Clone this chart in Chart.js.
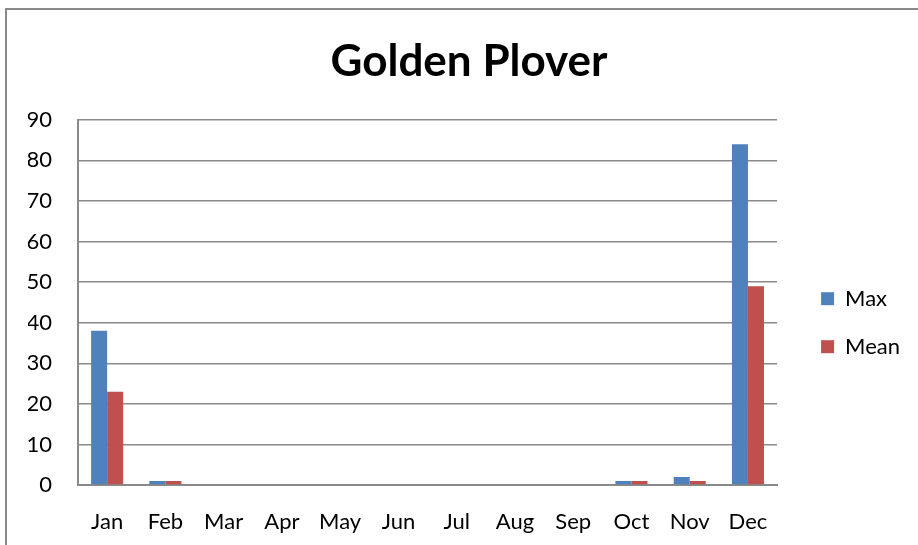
<!DOCTYPE html>
<html>
<head>
<meta charset="utf-8">
<script src="https://cdn.jsdelivr.net/npm/chart.js@4.4.1/dist/chart.umd.min.js"></script>
<style>
  body { margin: 0; background: #fff; }
  #wrap { position: absolute; left: 0; top: 0; width: 918px; height: 545px; overflow: hidden; background: #fff; }
  #frame { position: absolute; left: 5px; top: 8px; width: 1000px; height: 1000px; border: 2px solid #8a8a8a; }
  #holder { position: absolute; left: 10px; top: 0; width: 918px; height: 545px; }
</style>
</head>
<body>
<div id="wrap">
  <div id="frame"></div>
  <div id="holder"><canvas id="chart"></canvas></div>
</div>
<script>
// Golden Plover monthly counts
const months = ["Jan", "Feb", "Mar", "Apr", "May", "Jun", "Jul", "Aug", "Sep", "Oct", "Nov", "Dec"];
const maxCounts = [38, 1, 0, 0, 0, 0, 0, 0, 0, 1, 2, 84];
const meanCounts = [23, 1, 0, 0, 0, 0, 0, 0, 0, 1, 1, 49];
const yTicks = [0, 10, 20, 30, 40, 50, 60, 70, 80, 90];

const FONT = "Lato, 'Open Sans', sans-serif";

const ctx = document.getElementById('chart').getContext('2d');
new Chart(ctx, {
    type: 'bar',
    data: {
        labels: months,
        datasets: [
            { label: 'Max', data: maxCounts, backgroundColor: '#4F81BD' },
            { label: 'Mean', data: meanCounts, backgroundColor: '#C0504D' }
        ]
    },
    options: {
        responsive: true,
        maintainAspectRatio: false,
        animation: false,
        layout: { padding: { top: 0, right: 18, bottom: 0, left: 18 } },
        datasets: { bar: { categoryPercentage: 0.55, barPercentage: 1.0 } },
        plugins: {
            title: {
                display: true,
                text: 'Golden Plover',
                color: '#000',
                font: { family: FONT, size: 44, weight: 'bold' },
                padding: { top: 35, bottom: 32 }
            },
            legend: {
                position: 'right',
                title: { display: true, text: '', padding: { top: 86, bottom: 0 } },
                labels: {
                    color: '#000',
                    font: { family: FONT, size: 22 },
                    boxWidth: 13,
                    boxHeight: 13,
                    padding: 26
                }
            },
            tooltip: { enabled: false }
        },
        scales: {
            x: {
                grid: { display: false },
                border: { display: true, color: '#8a8a8a', width: 2 },
                ticks: { color: '#000', font: { family: FONT, size: 22 }, padding: 16, maxRotation: 0 },
                afterFit: (s) => { s.height = 60; }
            },
            y: {
                min: 0,
                max: 90,
                afterBuildTicks: (s) => { s.ticks = yTicks.map(v => ({ value: v })); },
                grid: { color: '#8a8a8a', lineWidth: 1.5, drawTicks: false },
                border: { display: true, color: '#8a8a8a', width: 2 },
                ticks: { color: '#000', font: { family: FONT, size: 22 }, padding: 26 },
                afterFit: (s) => { s.width = 50; }
            },
            // empty axis that keeps a gap between plot and legend
            gap: {
                position: 'right',
                display: true,
                grid: { display: false },
                border: { display: false },
                ticks: { display: false },
                afterFit: (s) => { s.width = 18; }
            }
        }
    }
});
</script>
</body>
</html>
